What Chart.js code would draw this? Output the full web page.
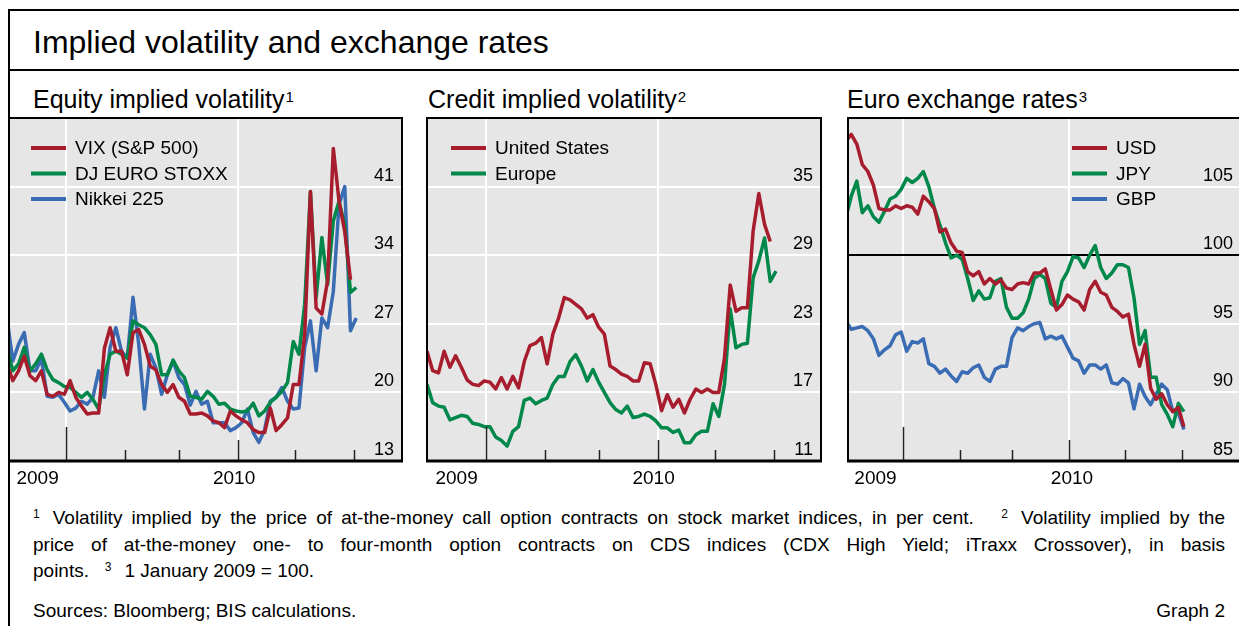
<!DOCTYPE html>
<html>
<head>
<meta charset="utf-8">
<script src="https://cdn.jsdelivr.net/npm/chart.js@4.4.0/dist/chart.umd.min.js"></script>
<style>
  html, body { margin: 0; padding: 0; background: #fff; }
  body { width: 1239px; height: 626px; overflow: hidden; position: relative;
         font-family: Arial, "Liberation Sans", Helvetica, sans-serif; color: #000; }
  .rule { position: absolute; background: #000; }
  .txt { position: absolute; white-space: nowrap; }
  #title { left: 33px; top: 26px; font-size: 32px; line-height: 32px; }
  .sub { top: 87px; font-size: 25px; line-height: 25px; }
  .sub sup { font-size: 15px; vertical-align: top; position: relative; top: -3px; margin-left: 1px; }
  canvas { position: absolute; }
  .note { position: absolute; left: 33px; width: 1192px; font-size: 19px; line-height: 26.5px;
          white-space: nowrap; }
  .just { text-align: justify; text-align-last: justify; }
  .note sup { font-size: 12px; vertical-align: top; position: relative; top: -4px; }
  .gap { display: inline-block; width: 13px; }
</style>
</head>
<body>
<div class="rule" style="left:8px;top:9px;width:1240px;height:2px"></div>
<div class="rule" style="left:8px;top:9px;width:2px;height:640px"></div>
<div class="rule" style="left:8px;top:69px;width:1240px;height:2px"></div>

<div id="title" class="txt">Implied volatility and exchange rates</div>
<div class="txt sub" style="left:33px">Equity implied volatility<sup>1</sup></div>
<div class="txt sub" style="left:428px">Credit implied volatility<sup>2</sup></div>
<div class="txt sub" style="left:847px">Euro exchange rates<sup>3</sup></div>

<canvas id="equity"></canvas>
<canvas id="credit"></canvas>
<canvas id="fx"></canvas>

<div class="note just" style="top:505px"><sup>1</sup><span class="gap"></span>Volatility implied by the price of at-the-money call option contracts on stock market indices, in per cent. &nbsp; <sup>2</sup><span class="gap"></span>Volatility implied by the</div>
<div class="note just" style="top:531.5px">price of at-the-money one- to four-month option contracts on CDS indices (CDX High Yield; iTraxx Crossover), in basis</div>
<div class="note" style="top:558px">points. &nbsp; <sup>3</sup><span class="gap"></span>1 January 2009 = 100.</div>
<div class="note" style="top:598px">Sources: Bloomberg; BIS calculations.</div>
<div class="note" style="top:598px;text-align:right">Graph 2</div>

<script>
// days counted from 1 December 2009, one reading every three days
const days = [0, 3, 6, 9, 12, 15, 18, 21, 24, 27, 30, 33, 36, 39, 42, 45, 48, 51, 54, 57,
  60, 63, 66, 69, 72, 75, 78, 81, 84, 87, 90, 93, 96, 99, 102, 105, 108, 111, 114, 117,
  120, 123, 126, 129, 132, 135, 138, 141, 144, 147, 150, 153, 156, 159, 162, 165, 168, 171, 174, 177,
  180, 183];

// equity implied volatility, per cent
const vix = [22.9, 21.2, 22.2, 23.7, 21.7, 21.2, 22.2, 19.8, 19.6, 20.0, 19.8, 21.2, 19.5, 18.6, 17.8, 17.9, 17.9, 24.5, 26.6, 24.2,
  24.2, 21.8, 26.1, 26.4, 24.9, 22.7, 22.3, 20.8, 20.0, 20.8, 19.5, 19.1, 17.8, 17.8, 17.9, 17.6, 17.1, 16.9, 16.4, 18.1,
  17.6, 17.2, 16.9, 16.2, 15.9, 15.9, 18.4, 16.1, 16.7, 17.4, 20.8, 20.8, 25.9, 40.5, 28.6, 28.0, 31.4, 44.9, 39.5, 36.4,
  31.5, null];
const euroStoxx = [24.5, 22.2, 22.9, 24.6, 22.2, 22.9, 23.9, 22.3, 21.3, 21.0, 20.6, 20.5, 20.0, 19.5, 20.0, 19.3, 18.3, 21.8, 23.9, 24.2,
  23.9, 23.5, 27.3, 26.9, 26.6, 25.9, 24.9, 21.8, 21.8, 23.3, 22.2, 21.5, 19.6, 19.5, 19.3, 20.1, 19.6, 18.8, 18.9, 18.3,
  18.1, 18.0, 18.1, 18.9, 17.6, 18.1, 19.0, 19.5, 20.1, 21.0, 25.2, 23.9, 29.0, 40.5, 29.7, 35.8, 31.0, 37.5, 39.5, 37.1,
  30.2, 30.7];
const nikkei = [27.5, 23.2, 24.9, 26.1, 22.2, 22.2, 23.4, 19.6, 19.5, 19.8, 19.0, 18.1, 18.4, 19.1, 18.8, 19.5, 22.2, 19.5, 24.6, 26.6,
  24.2, 23.5, 29.7, 24.9, 18.3, 23.9, 22.5, 19.8, 21.8, 23.2, 21.5, 20.8, 18.7, 20.1, 18.8, 19.1, 16.9, 16.9, 16.9, 16.1,
  16.4, 16.9, 18.3, 15.9, 14.9, 16.2, 19.1, 19.5, 20.5, 19.1, 18.3, 18.4, 24.6, 27.3, 22.2, 27.6, 26.6, 30.3, 39.2, 41.0,
  26.3, 27.6];

// credit implied volatility, basis points
const creditUS = [20.6, 18.9, 18.7, 20.6, 19.2, 20.2, 19.2, 18.1, 17.7, 17.6, 18.0, 17.9, 17.3, 18.3, 17.3, 18.4, 17.4, 19.7, 21.1, 21.3,
  21.8, 19.5, 22.1, 23.5, 25.3, 25.1, 24.7, 24.3, 23.5, 23.8, 22.7, 22.1, 19.3, 19.0, 18.6, 18.4, 18.0, 18.0, 19.6, 19.5,
  17.7, 15.4, 16.8, 15.7, 16.4, 15.2, 16.4, 17.3, 17.0, 17.3, 17.0, 17.0, 20.0, 26.4, 24.1, 24.4, 24.4, 31.1, 34.4, 31.7,
  30.2, null];
const creditEurope = [17.7, 16.1, 15.8, 15.7, 14.6, 14.8, 15.0, 14.9, 14.3, 14.2, 14.0, 14.0, 13.1, 12.8, 12.3, 13.6, 14.0, 16.3, 16.5, 16.0,
  16.3, 16.5, 17.7, 18.4, 18.4, 19.7, 20.3, 19.3, 18.0, 19.0, 17.9, 17.0, 16.1, 15.5, 15.2, 15.8, 14.8, 14.9, 15.1, 14.9,
  14.5, 13.9, 13.9, 13.5, 13.7, 12.6, 12.6, 13.3, 13.6, 13.6, 16.0, 14.9, 17.7, 24.3, 20.9, 21.2, 21.3, 27.0, 28.5, 30.5,
  26.7, 27.6];

// euro exchange rates, 1 January 2009 = 100
const usd = [108.3, 108.8, 108.1, 106.6, 106.1, 105.1, 103.4, 103.3, 103.3, 103.6, 103.4, 103.6, 103.5, 103.0, 104.3, 103.9, 103.4, 101.7, 101.9, 100.9,
  100.3, 100.2, 98.8, 98.5, 98.8, 97.9, 98.3, 97.9, 98.2, 97.6, 97.5, 97.9, 98.0, 97.9, 98.7, 98.7, 99.0, 97.5, 96.0, 96.4,
  97.1, 96.8, 96.6, 96.0, 97.5, 98.1, 97.3, 97.1, 96.2, 95.9, 95.5, 95.7, 93.5, 91.9, 93.5, 90.3, 89.5, 89.9, 89.1, 88.6,
  88.9, 87.5];
const jpy = [102.7, 104.3, 105.4, 103.1, 103.6, 102.8, 102.4, 103.2, 104.1, 104.3, 104.8, 105.6, 105.3, 105.6, 106.1, 105.0, 103.4, 102.2, 100.9, 99.8,
  100.0, 99.7, 98.3, 96.7, 97.4, 96.8, 96.9, 98.1, 98.3, 96.2, 95.4, 95.4, 95.8, 96.8, 98.3, 98.6, 98.3, 96.5, 96.2, 98.1,
  98.8, 99.9, 99.8, 99.1, 100.0, 100.7, 99.1, 98.3, 98.7, 99.3, 99.3, 99.1, 96.9, 93.5, 94.5, 91.1, 91.1, 89.1, 88.4, 87.5,
  89.2, 88.6];
const gbp = [95.2, 94.6, 94.7, 94.8, 94.5, 93.9, 92.7, 93.1, 93.4, 94.2, 94.4, 93.0, 93.7, 93.6, 93.9, 92.1, 91.9, 91.4, 91.7, 91.2,
  90.8, 91.5, 91.4, 91.8, 92.0, 91.1, 90.8, 91.7, 91.9, 91.9, 94.0, 94.7, 94.5, 94.8, 95.0, 95.1, 93.9, 94.1, 93.9, 94.1,
  93.3, 92.5, 92.3, 91.4, 92.0, 92.0, 91.7, 92.0, 90.7, 90.6, 91.0, 90.7, 88.8, 90.6, 89.7, 89.1, 89.9, 90.6, 90.2, 88.6,
  88.5, 87.3];

// x axis: month starts (days from 1 Dec 2009), year and quarter marks
const monthTicks = [31, 62, 90, 121, 151, 182];
const yearStart = 31;      // 1 January 2010
const quarterStart = 121;  // 1 April 2010
const yearLabels = ['2009', '2010'];

const RED = '#a81d2e', GREEN = '#00884a', BLUE = '#3a6cb3';
const FONT = 'Arial, "Liberation Sans", Helvetica, sans-serif';
Chart.defaults.font.family = FONT;
Chart.defaults.color = '#000';

const PAD = { left: 4, top: 4, right: 4, bottom: 32 };

// background, frame, inward ticks, tick labels, year labels and legend inside the plot
const panelDeco = {
  id: 'panelDeco',
  beforeDraw(chart) {
    const { ctx, chartArea: a } = chart;
    ctx.save();
    ctx.fillStyle = '#e6e6e6';
    ctx.fillRect(a.left, a.top, a.right - a.left, a.bottom - a.top);
    ctx.restore();
  },
  afterDatasetsDraw(chart, args, opts) {
    const { ctx, chartArea: a } = chart;
    const x = chart.scales.x, y = chart.scales.y;
    ctx.save();

    ctx.strokeStyle = '#222';
    ctx.lineWidth = 1.5;
    monthTicks.forEach(d => {
      const px = Math.round(x.getPixelForValue(d)) + 0.5;
      const len = d === yearStart ? 34 : d === quarterStart ? 21 : 11;
      ctx.beginPath();
      ctx.moveTo(px, a.bottom);
      ctx.lineTo(px, a.bottom - len);
      ctx.stroke();
    });

    ctx.strokeStyle = '#000';
    ctx.lineWidth = 2;
    ctx.strokeRect(a.left, a.top, a.right - a.left, a.bottom - a.top);
    ctx.lineWidth = 3;
    ctx.beginPath();
    ctx.moveTo(a.left - 1, a.bottom);
    ctx.lineTo(a.right + 1, a.bottom);
    ctx.stroke();

    ctx.fillStyle = '#000';
    ctx.textBaseline = 'middle';

    // value labels sit just above their grid lines, inside the plot
    ctx.font = '18px ' + FONT;
    ctx.textAlign = 'right';
    y.ticks.forEach(t => {
      if (t.value === y.max) return;
      ctx.fillText(String(t.value), a.right - 8, y.getPixelForValue(t.value) - 11);
    });

    // year labels centred on the visible part of each year
    const yx = x.getPixelForValue(yearStart);
    ctx.font = '19px ' + FONT;
    ctx.textAlign = 'center';
    ctx.fillText(yearLabels[0], (a.left + yx) / 2, a.bottom + 18);
    ctx.fillText(yearLabels[1], (yx + a.right) / 2, a.bottom + 18);

    // legend
    ctx.textAlign = 'left';
    ctx.lineWidth = 4;
    chart.data.datasets.forEach((ds, i) => {
      const ly = a.top + 30 + i * 25.5;
      const lx = a.left + opts.legendX;
      ctx.strokeStyle = ds.borderColor;
      ctx.beginPath();
      ctx.moveTo(lx, ly);
      ctx.lineTo(lx + 35, ly);
      ctx.stroke();
      ctx.fillText(ds.label, lx + 44, ly + 1);
    });
    ctx.restore();
  }
};

function makePanel(id, box, xRange, yRange, refLine, legendX, series) {
  const cv = document.getElementById(id);
  cv.width = box.right - box.left + PAD.left + PAD.right;
  cv.height = box.bottom - box.top + PAD.top + PAD.bottom;
  cv.style.left = (box.left - PAD.left) + 'px';
  cv.style.top = (box.top - PAD.top) + 'px';

  return new Chart(cv, {
    type: 'line',
    data: {
      datasets: series.map(s => ({
        label: s.label,
        data: days.map((d, i) => ({ x: d, y: s.values[i] })),
        borderColor: s.color,
        borderWidth: 3.5,
        borderJoinStyle: 'round',
        pointRadius: 0,
        tension: 0,
        fill: false
      }))
    },
    options: {
      responsive: false,
      animation: false,
      layout: { padding: PAD },
      plugins: {
        legend: { display: false },
        tooltip: { enabled: false },
        panelDeco: { legendX: legendX }
      },
      scales: {
        x: {
          type: 'linear',
          min: xRange[0],
          max: xRange[1],
          afterBuildTicks: s => { s.ticks = [yearStart, quarterStart].map(v => ({ value: v })); },
          ticks: { display: false },
          grid: { drawTicks: false, color: '#fff', lineWidth: 2 },
          border: { display: false },
          afterFit: s => { s.height = 0; }
        },
        y: {
          position: 'right',
          min: yRange[0],
          max: yRange[1],
          ticks: { stepSize: yRange[2], display: false },
          grid: {
            drawTicks: false,
            lineWidth: 2,
            color: c => {
              const v = c.tick.value;
              if (v === yRange[0] || v === yRange[1]) return 'rgba(0,0,0,0)';
              return v === refLine ? '#000' : '#fff';
            }
          },
          border: { display: false },
          afterFit: s => { s.width = 0; }
        }
      }
    },
    plugins: [panelDeco]
  });
}

makePanel('equity', { left: 9, top: 118, right: 402, bottom: 461 }, [1, 207], [13, 48, 7], null, 22, [
  { label: 'VIX (S&P 500)', values: vix, color: RED },
  { label: 'DJ EURO STOXX', values: euroStoxx, color: GREEN },
  { label: 'Nikkei 225', values: nikkei, color: BLUE }
]);

makePanel('credit', { left: 427, top: 118, right: 821, bottom: 461 }, [0, 206.6], [11, 41, 6], null, 24, [
  { label: 'United States', values: creditUS, color: RED },
  { label: 'Europe', values: creditEurope, color: GREEN }
]);

makePanel('fx', { left: 848, top: 118, right: 1241, bottom: 461 }, [1.24, 213.9], [85, 110, 5], 100, 224, [
  { label: 'USD', values: usd, color: RED },
  { label: 'JPY', values: jpy, color: GREEN },
  { label: 'GBP', values: gbp, color: BLUE }
]);
</script>
</body>
</html>
